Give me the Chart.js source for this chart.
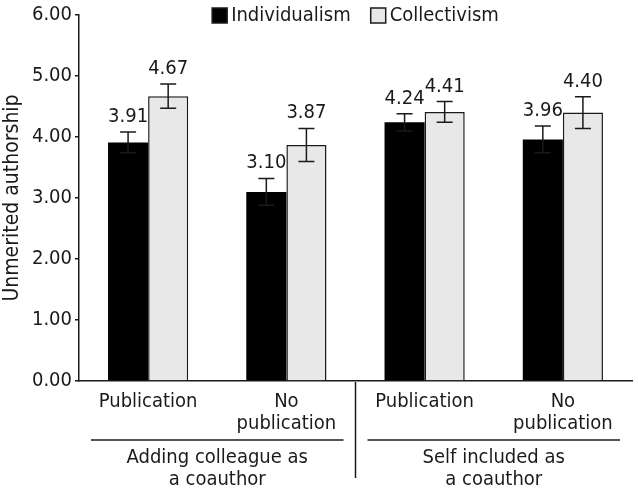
<!DOCTYPE html>
<html>
<head>
<meta charset="utf-8">
<script src="https://cdn.jsdelivr.net/npm/chart.js@4.4.1/dist/chart.umd.min.js"></script>
<style>
  html, body { margin: 0; padding: 0; background: #fff; }
  #wrap { width: 638px; height: 494px; position: relative; }
</style>
</head>
<body>
<div id="wrap"><canvas id="myChart"></canvas></div>
<script>
// values
const categories = [['Publication'], ['No', 'publication'], ['Publication'], ['No', 'publication']];
const groupLabels = [['Adding colleague as', 'a coauthor'], ['Self included as', 'a coauthor']];
const seriesNames = ['Individualism', 'Collectivism'];
const individualism = [3.91, 3.10, 4.24, 3.96];
const collectivism = [4.67, 3.87, 4.41, 4.40];
const individualismErr = [0.17, 0.22, 0.14, 0.22];
const collectivismErr = [0.20, 0.27, 0.17, 0.26];
const yTicks = [0, 1, 2, 3, 4, 5, 6];

const FONT = "'Liberation Sans Narrow', 'Arial Narrow', 'DejaVu Sans Condensed', sans-serif";
const INK = '#1a1a1a';
const SIZE = 20;
Chart.defaults.font.family = FONT;
Chart.defaults.color = INK;

const errors = [individualismErr, collectivismErr];

const errorBars = {
    id: 'errorBars',
    afterDatasetsDraw(chart) {
        const ctx = chart.ctx;
        const y = chart.scales.y;
        ctx.save();
        ctx.strokeStyle = INK;
        ctx.lineWidth = 1.5;
        ctx.fillStyle = INK;
        ctx.font = SIZE + 'px ' + FONT;
        ctx.textAlign = 'center';
        ctx.textBaseline = 'alphabetic';
        chart.data.datasets.forEach((ds, i) => {
            const meta = chart.getDatasetMeta(i);
            meta.data.forEach((bar, j) => {
                const v = ds.data[j];
                const e = errors[i][j];
                const top = y.getPixelForValue(v + e);
                const bot = y.getPixelForValue(v - e);
                ctx.beginPath();
                ctx.moveTo(bar.x, top); ctx.lineTo(bar.x, bot);
                ctx.moveTo(bar.x - 8, top); ctx.lineTo(bar.x + 8, top);
                ctx.moveTo(bar.x - 8, bot); ctx.lineTo(bar.x + 8, bot);
                ctx.stroke();
                ctx.fillText(v.toFixed(2), bar.x, top - 10);
            });
        });
        ctx.restore();
    }
};

const groupAxis = {
    id: 'groupAxis',
    afterDraw(chart) {
        const ctx = chart.ctx;
        const x = chart.scales.x;
        const area = chart.chartArea;
        const step = x.getPixelForValue(1) - x.getPixelForValue(0);
        ctx.save();
        ctx.strokeStyle = INK;
        ctx.fillStyle = INK;
        ctx.lineWidth = 1.5;
        ctx.font = SIZE + 'px ' + FONT;
        ctx.textAlign = 'center';
        ctx.textBaseline = 'alphabetic';
        groupLabels.forEach((lines, g) => {
            const left = x.getPixelForValue(g * 2) - step / 2;
            const right = x.getPixelForValue(g * 2 + 1) + step / 2;
            ctx.beginPath();
            ctx.moveTo(left + 12, area.bottom + 59);
            ctx.lineTo(right - 12, area.bottom + 59);
            ctx.stroke();
            const cx = (left + right) / 2;
            lines.forEach((t, k) => ctx.fillText(t, cx, area.bottom + 82 + k * 22));
            if (g > 0) {
                ctx.beginPath();
                ctx.moveTo(left, area.bottom + 1);
                ctx.lineTo(left, area.bottom + 97);
                ctx.stroke();
            }
        });

        // legend, centred over the plot area
        ctx.textAlign = 'left';
        ctx.textBaseline = 'middle';
        const box = 15, gap = 4, spacing = 20;
        const widths = seriesNames.map(n => box + gap + ctx.measureText(n).width);
        const total = widths.reduce((a, b) => a + b, 0) + spacing;
        let lx = (area.left + area.right) / 2 - total / 2;
        chart.data.datasets.forEach((ds, i) => {
            ctx.fillStyle = ds.backgroundColor;
            ctx.fillRect(lx, 8, box, box);
            ctx.strokeStyle = INK;
            ctx.lineWidth = 1.5;
            ctx.strokeRect(lx, 8, box, box);
            ctx.fillStyle = INK;
            ctx.fillText(seriesNames[i], lx + box + gap, 16);
            lx += widths[i] + spacing;
        });
        ctx.restore();
    }
};

const ctx = document.getElementById('myChart').getContext('2d');
const myChart = new Chart(ctx, {
    type: 'bar',
    data: {
        labels: categories,
        datasets: [{
            label: seriesNames[0],
            data: individualism,
            backgroundColor: '#000000',
            borderColor: '#000000',
            borderWidth: 0
        }, {
            label: seriesNames[1],
            data: collectivism,
            backgroundColor: '#e8e8e8',
            borderColor: INK,
            borderWidth: 1.5
        }]
    },
    options: {
        responsive: true,
        maintainAspectRatio: false,
        animation: false,
        layout: { padding: { top: 12, right: 6, left: 0, bottom: 0 } },
        datasets: { bar: { categoryPercentage: 0.58, barPercentage: 1.0 } },
        plugins: {
            legend: { display: false },
            tooltip: { enabled: false }
        },
        scales: {
            x: {
                grid: { display: false },
                border: { display: true, color: INK, width: 1.5 },
                ticks: { font: { size: SIZE, lineHeight: 1.1 }, color: INK, padding: 2, maxRotation: 0 },
                afterFit(scale) { scale.height = 113; }
            },
            y: {
                min: 0,
                max: 6,
                afterBuildTicks(scale) { scale.ticks = yTicks.map(v => ({ value: v })); },
                grid: { display: true, drawOnChartArea: false, drawTicks: true, tickLength: 4, color: INK, lineWidth: 1.5 },
                border: { display: true, color: INK, width: 1.5 },
                ticks: {
                    font: { size: SIZE },
                    color: INK,
                    padding: 3,
                    callback: function(value) { return Number(value).toFixed(2); }
                },
                title: { display: true, text: 'Unmerited authorship', font: { size: 21 }, color: INK, padding: 0 },
                afterFit(scale) { scale.width = 79; }
            }
        }
    },
    plugins: [errorBars, groupAxis]
});
</script>
</body>
</html>
